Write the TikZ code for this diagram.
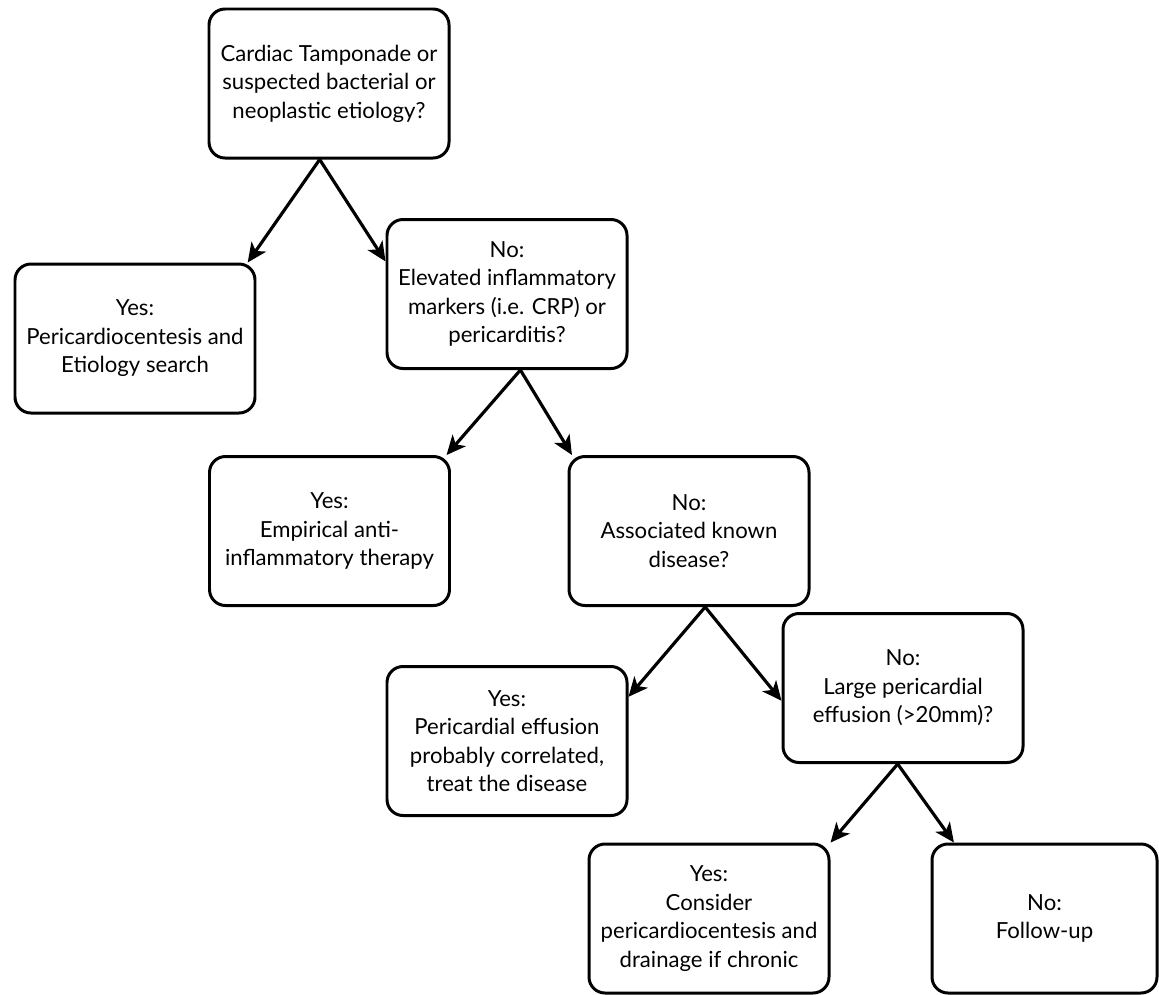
\documentclass[tikz,border=0pt]{standalone}
\usepackage{fontspec}
\setmainfont{Lato}
\usetikzlibrary{arrows.meta}
\begin{document}
\begin{tikzpicture}[
 box/.style={draw, line width=1.7pt, rounded corners=0.32cm, minimum width=4.8cm, minimum height=2.98cm, align=center, inner sep=2pt, font=\fontsize{12.6}{16.2}\selectfont},
 arr/.style={-{Stealth[length=11pt, width=10pt, inset=3pt]}, line width=1.8pt}]
 \useasboundingbox (0,0) rectangle (23.18,-19.88);
 \node [box] (tamponade) at (6.58,-1.67) {Cardiac Tamponade or\\suspected bacterial or\\neoplastic etiology?};
 \node [box] (drain) at (2.70,-6.77) {Yes:\\Pericardiocentesis and\\Etiology search};
 \node [box] (markers) at (10.14,-5.88) {No:\\Elevated inflammatory\\markers (i.e. CRP) or\\pericarditis?};
 \node [box] (therapy) at (6.59,-10.62) {Yes:\\Empirical anti-\\inflammatory therapy};
 \node [box] (disease) at (13.78,-10.62) {No:\\Associated known\\disease?};
 \node [box] (treat) at (10.14,-14.82) {Yes:\\Pericardial effusion\\probably correlated,\\treat the disease};
 \node [box] (large) at (18.06,-13.76) {No:\\Large pericardial\\effusion (>20mm)?};
 \node [box] (consider) at (14.18,-18.37) {Yes:\\Consider\\pericardiocentesis and\\drainage if chronic};
 \node [box, minimum width=4.5cm] (follow) at (20.89,-18.37) {No:\\Follow-up};
 \draw [arr] (tamponade.263) -- (drain.34);
 \draw [arr] (tamponade.263) -- (markers.165);
 \draw [arr] (markers.280) -- (therapy.33);
 \draw [arr] (markers.280) -- (disease.147);
 \draw [arr] (disease.282) -- (treat.20);
 \draw [arr] (disease.282) -- (large.186);
 \draw [arr] (large.266) -- (consider.32);
 \draw [arr] (large.266) -- (follow.140);
\end{tikzpicture}
\end{document}
